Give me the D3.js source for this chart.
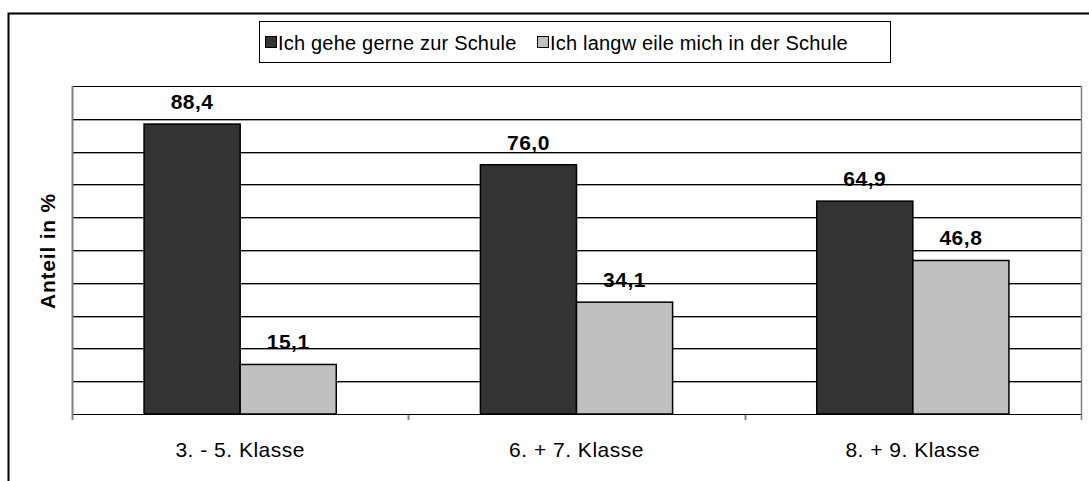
<!DOCTYPE html>
<html>
<head>
<meta charset="utf-8">
<script src="https://d3js.org/d3.v7.min.js"></script>
<style>
  body { margin:0; background:#fff; }
  text { font-family: Arial, "Liberation Sans", sans-serif; }
</style>
</head>
<body>
<div id="chart"></div>
<script>
var categories = ["3. - 5. Klasse", "6. + 7. Klasse", "8. + 9. Klasse"];
var seriesNames = ["Ich gehe gerne zur Schule", "Ich langw eile mich in der Schule"];
var gerne = [88.4, 76.0, 64.9];
var langweile = [15.1, 34.1, 46.8];
var yTicks = [0, 10, 20, 30, 40, 50, 60, 70, 80, 90, 100];

var w = 1089, h = 481;
var pLeft = 72, pRight = 1081, pTop = 86, pBottom = 414;
var colors = ["#333333", "#c0c0c0"];

var svg = d3.select("#chart").append("svg")
    .attr("width", w).attr("height", h);

// outer frame
svg.append("rect")
    .attr("x", 8.5).attr("y", 13.5)
    .attr("width", 1200).attr("height", 600)
    .attr("fill", "none").attr("stroke", "black").attr("stroke-width", 2);

var x = d3.scaleBand().domain(categories).range([pLeft, pRight]);
var xs = d3.scaleBand().domain([0, 1]).range([0, x.bandwidth()])
    .paddingOuter(0.75).paddingInner(0);
var y = d3.scaleLinear().domain([0, 100]).range([pBottom, pTop]);

// gridlines (black with a grey shadow)
svg.append("g").selectAll("line")
  .data(yTicks.slice(1, -1)).enter().append("line")
    .attr("x1", pLeft).attr("x2", pRight)
    .attr("y1", function(d) { return Math.round(y(d)) + 1.5; })
    .attr("y2", function(d) { return Math.round(y(d)) + 1.5; })
    .attr("stroke", "#a0a0a0");
svg.append("g").selectAll("line")
  .data(yTicks).enter().append("line")
    .attr("x1", pLeft).attr("x2", pRight)
    .attr("y1", function(d) { return Math.round(y(d)) + 0.5; })
    .attr("y2", function(d) { return Math.round(y(d)) + 0.5; })
    .attr("stroke", "black");

// left axis and right border (grey)
svg.append("line").attr("x1", pLeft + 0.5).attr("x2", pLeft + 0.5)
    .attr("y1", pTop).attr("y2", pBottom + 6)
    .attr("stroke", "#808080").attr("stroke-width", 2);
svg.append("line").attr("x1", pRight + 0.5).attr("x2", pRight + 0.5)
    .attr("y1", pTop).attr("y2", pBottom + 6)
    .attr("stroke", "#808080").attr("stroke-width", 1.5);

// category separators below axis
svg.append("g").selectAll("line")
  .data(categories.slice(1)).enter().append("line")
    .attr("x1", function(d) { return Math.round(x(d)) + 0.5; })
    .attr("x2", function(d) { return Math.round(x(d)) + 0.5; })
    .attr("y1", pBottom + 1).attr("y2", pBottom + 6)
    .attr("stroke", "#808080").attr("stroke-width", 2);

var rows = [];
categories.forEach(function(c, i) {
  rows.push({cat: c, s: 0, v: gerne[i]});
  rows.push({cat: c, s: 1, v: langweile[i]});
});

svg.append("g").selectAll("rect")
  .data(rows).enter().append("rect")
    .attr("x", function(d) { return x(d.cat) + xs(d.s); })
    .attr("y", function(d) { return y(d.v); })
    .attr("width", xs.bandwidth())
    .attr("height", function(d) { return y(0) - y(d.v); })
    .attr("fill", function(d) { return colors[d.s]; })
    .attr("stroke", "black").attr("stroke-width", 1.5);

svg.append("g").selectAll("text")
  .data(rows).enter().append("text")
    .attr("x", function(d) { return x(d.cat) + xs(d.s) + xs.bandwidth() / 2; })
    .attr("y", function(d) { return y(d.v) - 15; })
    .attr("text-anchor", "middle")
    .style("font-size", "21px").style("font-weight", "bold")
    .style("letter-spacing", "0.5px")
    .text(function(d) { return d3.format(".1f")(d.v).replace(".", ","); });

// category labels
svg.append("g").selectAll("text")
  .data(categories).enter().append("text")
    .attr("x", function(d) { return x(d) + x.bandwidth() / 2; })
    .attr("y", 457)
    .attr("text-anchor", "middle")
    .style("font-size", "21px").style("letter-spacing", "0.5px")
    .text(function(d) { return d; });

// y title
svg.append("text")
    .attr("transform", "translate(55,251) rotate(-90)")
    .attr("text-anchor", "middle")
    .style("font-size", "21px").style("font-weight", "bold")
    .style("letter-spacing", "0.8px")
    .text("Anteil in %");

// legend
var lg = svg.append("g");
lg.append("rect").attr("x", 259.5).attr("y", 21.5)
    .attr("width", 631).attr("height", 41)
    .attr("fill", "white").attr("stroke", "black");
var lx = [265, 537];
seriesNames.forEach(function(n, i) {
  lg.append("rect").attr("x", lx[i] + 0.5).attr("y", 36.5)
      .attr("width", 11).attr("height", 11)
      .attr("fill", colors[i]).attr("stroke", "black");
  lg.append("text").attr("x", lx[i] + 13).attr("y", 50)
      .style("font-size", "20px").style("letter-spacing", "0.2px")
      .text(n);
});
</script>
</body>
</html>
